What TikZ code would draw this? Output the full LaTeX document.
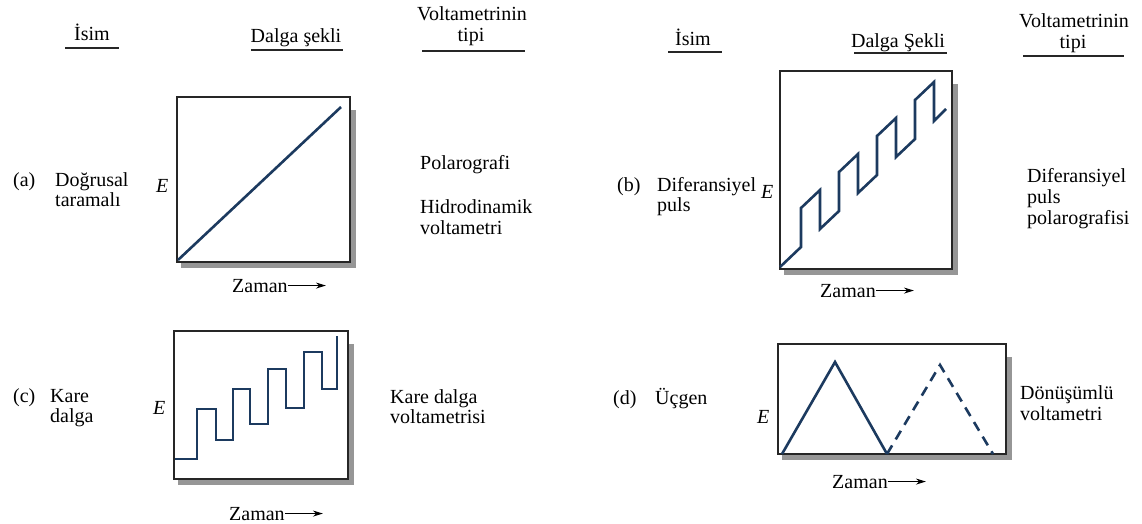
\documentclass[tikz,border=0pt]{standalone}
\usepackage{fontspec}
\setmainfont{Liberation Serif}
\usetikzlibrary{arrows.meta,calc}
\definecolor{wave}{RGB}{28,58,95}
\definecolor{shad}{RGB}{150,150,150}
\begin{document}
\begin{tikzpicture}[x=1pt,y=-1pt,
  lbl/.style={anchor=base west,inner sep=0pt,font=\fontsize{20}{21}\selectfont},
  ctr/.style={anchor=base,inner sep=0pt,font=\fontsize{20}{21}\selectfont},
  hline/.style={line width=1.3pt,black!85},
  framebox/.style={draw=black!85,line width=1.2pt,fill=white},
  shadow/.style={fill=shad},
  wavel/.style={draw=wave,line width=2.6pt},
  wavedash/.style={draw=wave,line width=2.6pt,dash pattern=on 10pt off 7pt},
  zarrow/.style={line width=1.1pt,-{Stealth[length=10pt,width=6pt]}},
]
\useasboundingbox (0,0) rectangle (1142,523);
\fill[white] (0,0) rectangle (1142,523);

% ---------- headers left
\node[ctr] (isimA) at (92,40) {İsim};
\draw[hline] (65,48) -- (119,48);
\node[ctr] (dalgaA) at (296,42) {Dalga şekli};
\draw[hline] (251,50) -- (343,50);
\node[ctr] (voltA1) at (472,20) {Voltametrinin};
\node[ctr] (voltA2) at (471,41) {tipi};
\draw[hline] (422,51) -- (525,51);

% ---------- headers right
\node[ctr] (isimB) at (693,45) {İsim};
\draw[hline] (668,52) -- (722,52);
\node[ctr] (dalgaB) at (898,47) {Dalga Şekli};
\draw[hline] (854,53) -- (947,53);
\node[ctr] (voltB1) at (1074,27) {Voltametrinin};
\node[ctr] (voltB2) at (1073,48) {tipi};
\draw[hline] (1023,56) -- (1124,56);

% ---------- (a)
\fill[shadow] (181,262) rectangle (356,268);
\fill[shadow] (350,110) rectangle (356,268);
\draw[framebox] (177,97) rectangle (350,262);
\draw[wavel] (178,260) -- (341,107);
\node[lbl] (la) at (13,186) {(a)};
\node[lbl] (na1) at (55,186) {Doğrusal};
\node[lbl] (na2) at (55,206) {taramalı};
\node[lbl] (Ea) at (156,192) {\textit{E}};
\node[lbl] (ta1) at (420,169) {Polarografi};
\node[lbl] (ta2) at (420,213) {Hidrodinamik};
\node[lbl] (ta3) at (420,234) {voltametri};
\node[lbl] (za) at (232,292) {Zaman};
\coordinate (zae) at ($(za.east)+(38,0)$);
\draw[zarrow] (za.east) -- (zae);

% ---------- (b)
\fill[shadow] (784,269) rectangle (958,275);
\fill[shadow] (952,84) rectangle (958,275);
\draw[framebox] (780,71) rectangle (952,269);
\draw[wavel] (780,267) -- (801,247) -- (801,208) -- (820,190) -- (820,229)
  -- (839,211) -- (839,172) -- (858,154) -- (858,193) -- (877,175) -- (877,136)
  -- (896,118) -- (896,157) -- (915,139) -- (915,100) -- (934,82) -- (934,121)
  -- (946,109);
\node[lbl] (lb) at (617,191) {(b)};
\node[lbl] (nb1) at (657,191) {Diferansiyel};
\node[lbl] (nb2) at (657,211) {puls};
\node[lbl] (Eb) at (761,198) {\textit{E}};
\node[lbl] (tb1) at (1027,182) {Diferansiyel};
\node[lbl] (tb2) at (1027,203) {puls};
\node[lbl] (tb3) at (1027,224) {polarografisi};
\node[lbl] (zb) at (820,297) {Zaman};
\coordinate (zbe) at ($(zb.east)+(38,0)$);
\draw[zarrow] (zb.east) -- (zbe);

% ---------- (c)
\fill[shadow] (178,479) rectangle (354,485);
\fill[shadow] (348,344) rectangle (354,485);
\draw[framebox] (174,331) rectangle (348,479);
\draw[wavel] (175,459) -- (197,459) -- (197,409) -- (216,409) -- (216,440)
  -- (233,440) -- (233,389) -- (250,389) -- (250,424) -- (268,424) -- (268,369)
  -- (286,369) -- (286,408) -- (304,408) -- (304,352) -- (322,352) -- (322,389)
  -- (337,389) -- (337,336);
\node[lbl] (lc) at (13,402) {(c)};
\node[lbl] (nc1) at (50,402) {Kare};
\node[lbl] (nc2) at (50,422) {dalga};
\node[lbl] (Ec) at (153,414) {\textit{E}};
\node[lbl] (tc1) at (390,403) {Kare dalga};
\node[lbl] (tc2) at (390,423) {voltametrisi};
\node[lbl] (zc) at (229,520) {Zaman};
\coordinate (zce) at ($(zc.east)+(38,0)$);
\draw[zarrow] (zc.east) -- (zce);

% ---------- (d)
\fill[shadow] (782,454) rectangle (1012,460);
\fill[shadow] (1006,357) rectangle (1012,460);
\draw[framebox] (778,344) rectangle (1006,454);
\draw[wavel] (782,454) -- (835,362) -- (887,454);
\draw[wavedash] (887,454) -- (940,365) -- (993,454);
\node[lbl] (ld) at (613,404) {(d)};
\node[lbl] (nd1) at (655,404) {Üçgen};
\node[lbl] (Ed) at (757,423) {\textit{E}};
\node[lbl] (td1) at (1020,399) {Dönüşümlü};
\node[lbl] (td2) at (1020,420) {voltametri};
\node[lbl] (zd) at (832,488) {Zaman};
\coordinate (zde) at ($(zd.east)+(38,0)$);
\draw[zarrow] (zd.east) -- (zde);
\end{tikzpicture}
\end{document}
